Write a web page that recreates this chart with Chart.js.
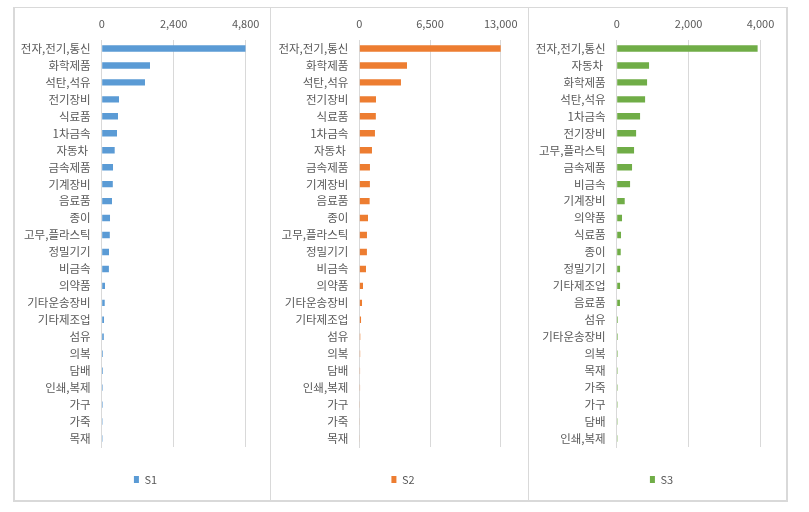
<!DOCTYPE html>
<html>
<head>
<meta charset="utf-8">
<script src="https://cdn.jsdelivr.net/npm/chart.js@4/dist/chart.umd.min.js"></script>
<style>
  html, body { margin: 0; padding: 0; background: #fff; }
  body { width: 809px; height: 512px; position: relative; overflow: hidden; }
  .frame { position: absolute; left: 13px; top: 7px; width: 775px; height: 495px;
           border: 2px solid #d9d9d9; border-top-width: 1px; box-sizing: border-box; }
  .divider { position: absolute; top: 7px; width: 1px; height: 495px; background: #d9d9d9; }
  canvas { position: absolute; top: 0; }
</style>
</head>
<body>
<div class="frame"></div>
<div class="divider" style="left:270px"></div>
<div class="divider" style="left:528px"></div>
<canvas id="c1" width="257" height="495" style="left:13px"></canvas>
<canvas id="c2" width="258" height="495" style="left:270px"></canvas>
<canvas id="c3" width="259" height="495" style="left:528px"></canvas>
<script>
/* ===== DATA ===== */
const cats12 = ['전자,전기,통신', '화학제품', '석탄,석유', '전기장비', '식료품', '1차금속', '자동차 ',
  '금속제품', '기계장비', '음료품', '종이', '고무,플라스틱', '정밀기기', '비금속', '의약품',
  '기타운송장비', '기타제조업', '섬유', '의복', '담배', '인쇄,복제', '가구', '가죽', '목재'];
const s1 = [4800, 1610, 1443, 577, 543, 510, 433, 377, 370, 343, 277, 270, 243, 240,
  110, 100, 77, 70, 40, 40, 35, 35, 30, 30];
const s2 = [13030, 4385, 3830, 1535, 1520, 1440, 1165, 980, 975, 950, 800, 705, 700, 615,
  340, 250, 160, 90, 80, 70, 70, 60, 55, 55];

const cats3 = ['전자,전기,통신', '자동차 ', '화학제품', '석탄,석유', '1차금속', '전기장비', '고무,플라스틱',
  '금속제품', '비금속', '기계장비', '의약품', '식료품', '종이', '정밀기기', '기타제조업', '음료품',
  '섬유', '기타운송장비', '의복', '목재', '가죽', '가구', '담배', '인쇄,복제'];
const s3 = [3920, 900, 845, 790, 650, 540, 483, 427, 372, 223, 148, 120, 112, 93, 93, 90,
  32, 30, 28, 26, 26, 25, 24, 24];

const ticks1 = [0, 2400, 4800];
const ticks2 = [0, 6500, 13000];
const ticks3 = [0, 2000, 4000];

/* ===== CHARTS ===== */
const family = "'Noto Sans CJK KR', 'Noto Sans', sans-serif";
const font = { family, size: 11 };
const catFont = { family, size: 11.5 };
const textColor = '#595959';
const gridColor = '#d9d9d9';

// legend is centred on the whole panel, not on the padded area
const legendShift = {
  id: 'legendShift',
  afterLayout(chart, args, opts) {
    const lg = chart.legend;
    if (!lg) return;
    lg.left += opts.dx; lg.right += opts.dx;
  }
};

const renderPanel = (id, labels, values, tickVals, name, color, yWidth, padRight) => {
  new Chart(document.getElementById(id), {
    type: 'bar',
    data: {
      labels,
      datasets: [{ label: name, data: values, backgroundColor: color, borderWidth: 0,
        categoryPercentage: 1, barPercentage: 0.38 }]
    },
    options: {
      indexAxis: 'y',
      responsive: false, animation: false,
      layout: { padding: { top: 10, right: padRight, bottom: 0, left: 0 } },
      plugins: {
        legend: {
          position: 'bottom',
          labels: { font, color: textColor, boxWidth: 5, boxHeight: 7, padding: 27 }
        },
        tooltip: { enabled: false },
        legendShift: { dx: padRight / 2 + 4 }
      },
      scales: {
        x: {
          position: 'top',
          min: tickVals[0], max: tickVals[tickVals.length - 1],
          afterBuildTicks: (s) => { s.ticks = tickVals.map(v => ({ value: v })); },
          afterFit: (s) => { s.height = 30; },
          grid: { color: gridColor, drawTicks: false },
          border: { display: false },
          ticks: { font, color: textColor, padding: 10,
            callback: (v) => Number(v).toLocaleString('en-US') }
        },
        y: {
          afterFit: (s) => { s.width = yWidth; },
          grid: { display: false, drawTicks: false },
          border: { display: true, color: gridColor },
          ticks: { font: catFont, color: textColor, padding: 11, autoSkip: false }
        }
      }
    },
    plugins: [legendShift]
  });
};

renderPanel('c1', cats12, s1, ticks1, 'S1', '#5b9bd5', 88.7, 24.3);
renderPanel('c2', cats12, s2, ticks2, 'S2', '#ed7d31', 89.3, 27.3);
renderPanel('c3', cats3, s3, ticks3, 'S3', '#70ad47', 88.7, 26.5);
</script>
</body>
</html>
